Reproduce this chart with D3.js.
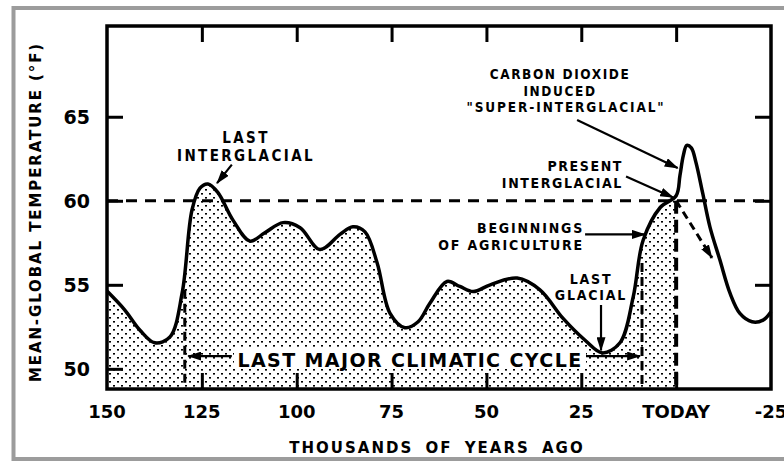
<!DOCTYPE html>
<html>
<head>
<meta charset="utf-8">
<script src="https://cdn.jsdelivr.net/npm/d3@7"></script>
<style>
  html, body { margin: 0; padding: 0; background: #fff; }
  svg { display: block; }
  text { font-family: "DejaVu Sans", sans-serif; font-weight: bold; fill: #000; }
  .ann { font-family: "DejaVu Sans Condensed", "DejaVu Sans", sans-serif; font-stretch: condensed; }
</style>
</head>
<body>
<svg id="chart" width="784" height="462"></svg>
<script>
// Mean global temperature over the last 150,000 years (thousands of years ago, °F)
const years = [150, 145.3, 141.3, 137.4, 133.4, 130.2, 127.6, 125.5, 123.4, 120.8, 116.8, 112.3,
  108.4, 103.6, 99.1, 93.9, 88.6, 85.2, 82.0, 78.8, 75.4, 71.5, 68.0, 64.9, 60.4, 57.0, 53.5,
  49.0, 41.9, 35.9, 29.8, 24.0, 19.5, 14.8, 11.3, 8.7, 4.2, 0,
  -1.0, -1.9, -2.8, -4.0, -5.2, -7.0, -8.9, -11.5, -14.2, -16.8, -20.0, -22.9, -25];
const temps = [54.63, 53.5, 52.3, 51.55, 51.9, 54.5, 59.45, 60.75, 61.0, 60.5, 58.85, 57.6,
  58.1, 58.7, 58.4, 57.1, 58.0, 58.45, 58.15, 56.3, 53.3, 52.45, 52.8, 53.9, 55.2, 54.9, 54.6,
  55.0, 55.4, 54.7, 53.0, 51.7, 50.95, 51.55, 54.3, 57.65, 59.6, 60.3,
  61.5, 62.7, 63.3, 63.15, 62.3, 60.45, 58.45, 56.5, 54.5, 53.3, 52.8, 52.9, 53.4];

const xTickValues = [150, 125, 100, 75, 50, 25, 0, -25];
const xTickLabels = ["150", "125", "100", "75", "50", "25", "TODAY", "-25"];
const yTickValues = [50, 55, 60, 65];
const yTickLabels = ["50", "55", "60", "65"];

const referenceTemp = 60;                 // dashed present-day level
const cycleStart = 129.5, cycleEnd = 9;   // last major climatic cycle bounds

const svg = d3.select("#chart");
const W = 784, H = 462;
const plot = { left: 107, right: 771, top: 26, bottom: 389 };

const x = d3.scaleLinear().domain([150, -25]).range([plot.left, plot.right]);
const y = d3.scaleLinear().domain([48.8, 70.4]).range([plot.bottom, plot.top]);

svg.append("rect").attr("width", W).attr("height", H).attr("fill", "#fff");

// outer grey border
svg.append("rect")
  .attr("x", 13.5).attr("y", 8).attr("width", 820).attr("height", 451)
  .attr("fill", "none").attr("stroke", "#9c9c9c").attr("stroke-width", 4);

const defs = svg.append("defs");
const pat = defs.append("pattern").attr("id", "stipple")
  .attr("patternUnits", "userSpaceOnUse").attr("width", 8).attr("height", 8);
pat.append("rect").attr("x", 1).attr("y", 1).attr("width", 2).attr("height", 1.6).attr("fill", "#000");
pat.append("rect").attr("x", 5).attr("y", 5).attr("width", 2).attr("height", 1.6).attr("fill", "#000");

defs.append("clipPath").attr("id", "pastClip")
  .append("rect").attr("x", plot.left).attr("y", plot.top)
  .attr("width", x(0) - plot.left).attr("height", plot.bottom - plot.top);

defs.append("marker").attr("id", "head")
  .attr("markerUnits", "userSpaceOnUse").attr("markerWidth", 14).attr("markerHeight", 9)
  .attr("refX", 13).attr("refY", 4.5).attr("orient", "auto")
  .append("path").attr("d", "M0,0 L14,4.5 L0,9 Z").attr("fill", "#000");

const pts = years.map((d, i) => [d, temps[i]]);
const curve = d3.curveCatmullRom.alpha(0.5);

// stippled area under the curve up to today
svg.append("path")
  .datum(pts)
  .attr("clip-path", "url(#pastClip)")
  .attr("fill", "url(#stipple)")
  .attr("d", d3.area().x(d => x(d[0])).y0(plot.bottom).y1(d => y(d[1])).curve(curve));

// dashed reference level
svg.append("line")
  .attr("x1", plot.left).attr("x2", plot.right)
  .attr("y1", y(referenceTemp)).attr("y2", y(referenceTemp))
  .attr("stroke", "#000").attr("stroke-width", 3).attr("stroke-dasharray", "11,8");

// dashed verticals
const verticals = [
  { year: cycleStart, top: 54.7, width: 3, dash: "9,5" },
  { year: cycleEnd, top: 56.3, width: 3, dash: "9,5" },
  { year: 0, top: referenceTemp, width: 4, dash: "13,6" }
];
svg.selectAll(".vdash").data(verticals).join("line")
  .attr("x1", d => x(d.year)).attr("x2", d => x(d.year))
  .attr("y1", d => y(d.top)).attr("y2", plot.bottom)
  .attr("stroke", "#000").attr("stroke-width", d => d.width).attr("stroke-dasharray", d => d.dash);

// temperature curve
svg.append("path")
  .datum(pts)
  .attr("fill", "none").attr("stroke", "#000").attr("stroke-width", 3.5)
  .attr("stroke-linejoin", "round")
  .attr("d", d3.line().x(d => x(d[0])).y(d => y(d[1])).curve(curve));

// frame
svg.append("rect")
  .attr("x", plot.left).attr("y", plot.top)
  .attr("width", plot.right - plot.left).attr("height", plot.bottom - plot.top)
  .attr("fill", "none").attr("stroke", "#000").attr("stroke-width", 3.5);

// axes with inward ticks
const tickLen = 16;
const innerX = xTickValues.slice(1, -1);
svg.append("g").attr("transform", `translate(0,${plot.top})`)
  .call(d3.axisBottom(x).tickValues(innerX).tickSize(tickLen).tickFormat(""))
  .call(g => g.select(".domain").remove());
svg.append("g").attr("transform", `translate(0,${plot.bottom})`)
  .call(d3.axisTop(x).tickValues(innerX).tickSize(tickLen).tickFormat(""))
  .call(g => g.select(".domain").remove());
svg.append("g").attr("transform", `translate(${plot.left},0)`)
  .call(d3.axisRight(y).tickValues(yTickValues).tickSize(tickLen).tickFormat(""))
  .call(g => g.select(".domain").remove());
svg.append("g").attr("transform", `translate(${plot.right},0)`)
  .call(d3.axisLeft(y).tickValues(yTickValues.filter(v => v !== 50)).tickSize(tickLen).tickFormat(""))
  .call(g => g.select(".domain").remove());
svg.selectAll(".tick line").attr("stroke", "#000").attr("stroke-width", 3);

// tick labels
svg.append("g").selectAll("text").data(xTickValues).join("text")
  .attr("x", d => x(d)).attr("y", 418)
  .attr("text-anchor", "middle").attr("font-size", 18)
  .text((d, i) => xTickLabels[i]);
svg.append("g").selectAll("text").data(yTickValues).join("text")
  .attr("x", 90).attr("y", d => y(d) + 7)
  .attr("text-anchor", "end").attr("font-size", 19)
  .text((d, i) => yTickLabels[i]);

// axis titles
svg.append("text")
  .attr("transform", "translate(41,212) rotate(-90)")
  .attr("text-anchor", "middle").attr("font-size", 15).attr("letter-spacing", 1.9)
  .text("MEAN-GLOBAL TEMPERATURE (°F)");
svg.append("text")
  .attr("x", 437).attr("y", 453)
  .attr("text-anchor", "middle").attr("font-size", 15).attr("letter-spacing", 2)
  .attr("word-spacing", 5)
  .text("THOUSANDS OF YEARS AGO");

// annotation arrows (data coordinates)
const arrows = [
  { from: [117.1, 62.15], to: [121.0, 61.05] },
  { from: [26.1, 64.8], to: [-0.4, 61.95] },
  { from: [13.2, 61.45], to: [0.8, 60.2] },
  { from: [24.0, 58.0], to: [8.2, 58.0] },
  { from: [19.8, 53.8], to: [19.8, 51.1] },
  { from: [117.1, 50.76], to: [128.6, 50.76] },
  { from: [24.0, 50.76], to: [9.5, 50.76] },
  { from: [0, 60], to: [-9.45, 56.6], dash: "8,5" }
];
svg.selectAll(".arrow").data(arrows).join("line")
  .attr("x1", d => x(d.from[0])).attr("y1", d => y(d.from[1]))
  .attr("x2", d => x(d.to[0])).attr("y2", d => y(d.to[1]))
  .attr("stroke", "#000").attr("stroke-width", d => d.dash ? 3 : 2.2)
  .attr("stroke-dasharray", d => d.dash || null)
  .attr("marker-end", "url(#head)");

// cycle label on a clear band
svg.append("rect").attr("x", 234).attr("y", 349).attr("width", 352).attr("height", 20).attr("fill", "#fff");
svg.append("text")
  .attr("x", 410).attr("y", 367).attr("text-anchor", "middle")
  .attr("font-size", 19).attr("letter-spacing", 1.4)
  .text("LAST MAJOR CLIMATIC CYCLE");

// text annotations
const notes = [
  { lines: ["LAST", "INTERGLACIAL"], x: 246, y: [143, 161], anchor: "middle", size: 15, sp: 2.4 },
  { lines: ["CARBON DIOXIDE", "INDUCED"], x: 560, y: [79, 96], anchor: "middle", size: 13.5, sp: 1.6 },
  { lines: ["\"SUPER-INTERGLACIAL\""], x: 566, y: [112], anchor: "middle", size: 13.5, sp: 1.9 },
  { lines: ["PRESENT", "INTERGLACIAL"], x: 623, y: [171, 188], anchor: "end", size: 14, sp: 1.6 },
  { lines: ["BEGINNINGS", "OF AGRICULTURE"], x: 584, y: [233, 250], anchor: "end", size: 14, sp: 1.8 },
  { lines: ["LAST", "GLACIAL"], x: 591, y: [284, 300], anchor: "middle", size: 14, sp: 1.8 }
];
notes.forEach(n => {
  svg.append("g").selectAll("text").data(n.lines).join("text")
    .attr("class", "ann")
    .attr("x", n.x).attr("y", (d, i) => n.y[i])
    .attr("text-anchor", n.anchor).attr("font-size", n.size).attr("letter-spacing", n.sp)
    .text(d => d);
});
</script>
</body>
</html>
